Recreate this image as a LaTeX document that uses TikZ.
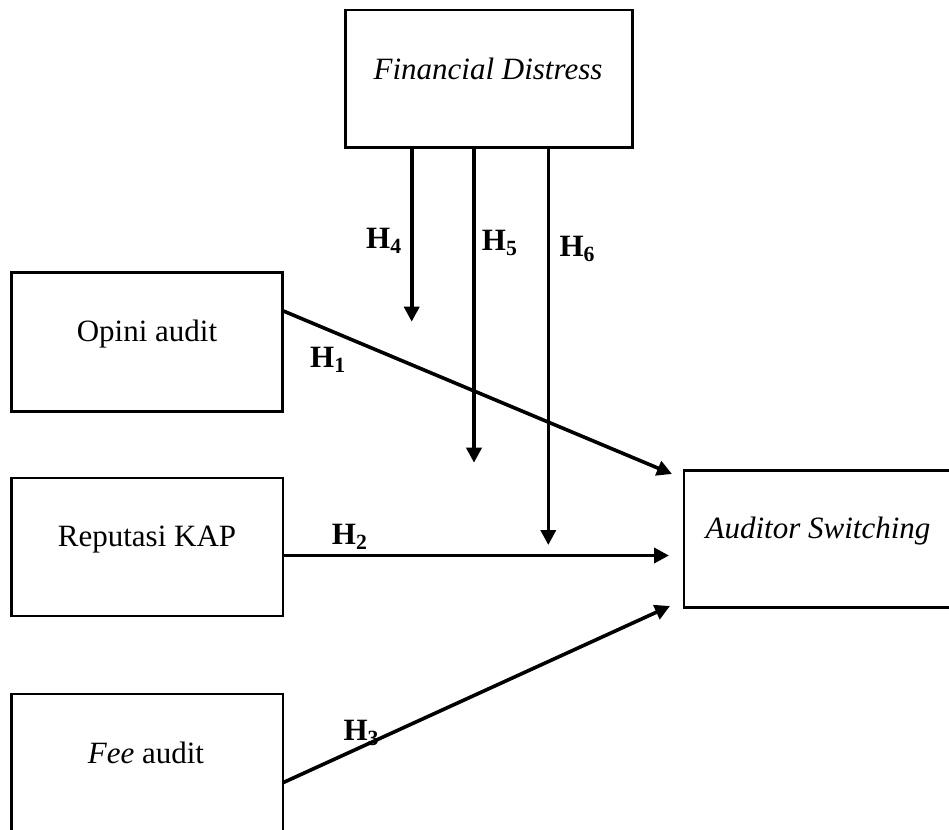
\documentclass[tikz,border=0pt]{standalone}
\usepackage{fontspec}
\setmainfont{Liberation Serif}
\usetikzlibrary{arrows.meta}
\begin{document}
\begin{tikzpicture}[x=1pt,y=-1pt,
  box/.style={draw, line width=2.6pt, inner sep=0pt, outer sep=0pt},
  txt/.style={font=\fontsize{31}{36}\selectfont, anchor=base, inner sep=0pt},
  lab/.style={font=\fontsize{31}{36}\selectfont\bfseries, anchor=base west, inner sep=0pt},
  arr/.style={line width=3.6pt, -{Triangle[length=15pt,width=15pt]}}
]
\useasboundingbox (0,0) rectangle (949,829);
\clip (0,0) rectangle (949,829);
\fill[white] (0,0) rectangle (949,829);

% boxes
\node[box, minimum width=287pt, minimum height=137.7pt] (fd) at (489.2,78.9) {};
\node[box, minimum width=271pt, minimum height=139pt] (op) at (147.2,342.2) {};
\node[box, minimum width=271.3pt, minimum height=138pt] (rep) at (147.3,547) {};
\node[box, minimum width=271.3pt, minimum height=166pt] (fee) at (147.3,777) {};
\node[box, minimum width=276pt, minimum height=137pt] (as) at (822,539.2) {};

% texts
\node[txt] (tfd) at (488,79.3) {\itshape Financial Distress};
\node[txt] (top) at (147,341.7) {Opini audit};
\node[txt] (trep) at (147,546.7) {Reputasi KAP};
\node[txt] (tfee) at (146,763.3) {\textit{Fee} audit};
\node[txt] (tas) at (818,538.3) {\itshape Auditor Switching};

% free ends
\coordinate (t4) at (411.7,321.7);
\coordinate (t5) at (474,462.7);
\coordinate (t6) at (548.3,545);
\coordinate (t1) at (672,474);
\coordinate (t2) at (669,555.5);
\coordinate (t3) at (670,606);

% arrows
\draw[arr] (fd.south -| t4) -- (t4);
\draw[arr] (fd.south -| t5) -- (t5);
\draw[arr] (fd.south -| t6) -- (t6);
\draw[arr] ([yshift=31.5pt]op.east) -- (t1);
\draw[arr] ([yshift=-8.5pt]rep.east) -- (t2);
\draw[arr] ([yshift=-5.7pt]fee.east) -- (t3);

% labels
\node[lab] (h4) at (366,248) {H\textsubscript{4}};
\node[lab] (h5) at (481.7,250) {H\textsubscript{5}};
\node[lab] (h6) at (559.3,256) {H\textsubscript{6}};
\node[lab] (h1) at (310,367) {H\textsubscript{1}};
\node[lab] (h2) at (331.7,544) {H\textsubscript{2}};
\node[lab] (h3) at (343.3,740) {H\textsubscript{3}};
\end{tikzpicture}
\end{document}
